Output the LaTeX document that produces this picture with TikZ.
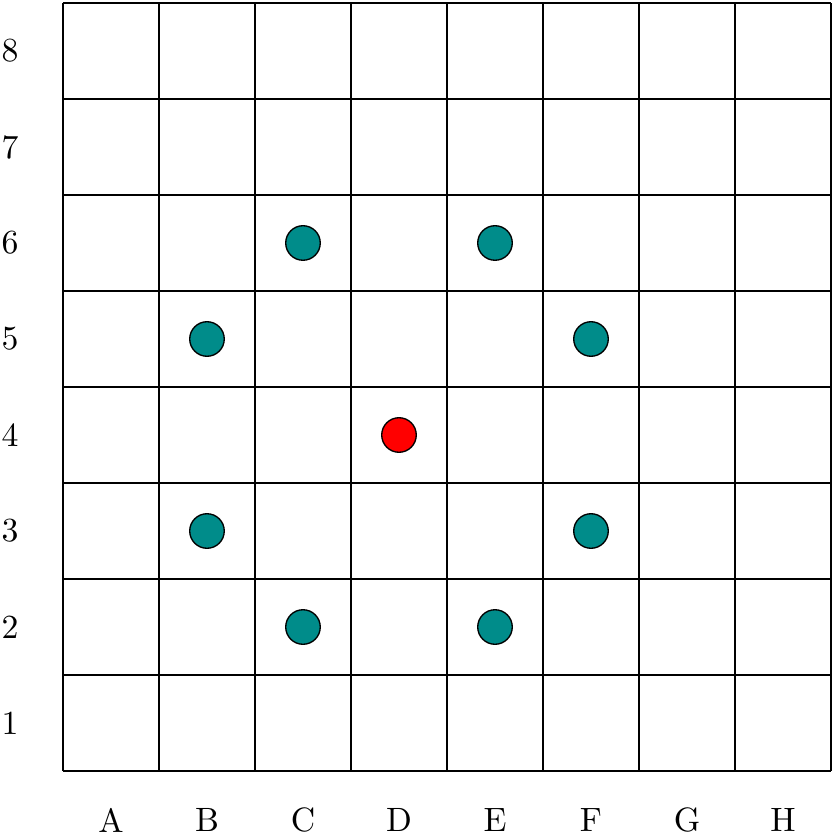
\documentclass[tikz,border=0pt]{standalone}
\usepackage{amsmath}
\usepackage{amssymb}
\usepackage{tikz}

\definecolor{pawn}{RGB}{0,140,138}
\tikzset{
    piece/.style={circle, draw=black, thin, minimum size=0.36cm, inner sep=0pt},
}

\begin{document}
\begin{tikzpicture}[scale=1]
    \useasboundingbox (-0.656,-0.656) rectangle (8.005,8.031);
    \draw[-] (0.0,0.0) grid (8.0,8.0);
    \foreach \l [count=\i] in {A,B,C,D,E,F,G,H} {
        \node (col\l) at (\i-0.5,-0.51) {\l};
    }
    \foreach \r in {1,...,8} {
        \node (row\r) at (-0.55,\r-0.5) {\r};
    }
    \node[piece, fill=red] (d4) at (3.5,3.5) {};
    \node[piece, fill=pawn] (c6) at (2.5,5.5) {};
    \node[piece, fill=pawn] (e6) at (4.5,5.5) {};
    \node[piece, fill=pawn] (b5) at (1.5,4.5) {};
    \node[piece, fill=pawn] (f5) at (5.5,4.5) {};
    \node[piece, fill=pawn] (b3) at (1.5,2.5) {};
    \node[piece, fill=pawn] (f3) at (5.5,2.5) {};
    \node[piece, fill=pawn] (c2) at (2.5,1.5) {};
    \node[piece, fill=pawn] (e2) at (4.5,1.5) {};
\end{tikzpicture}
\end{document}
